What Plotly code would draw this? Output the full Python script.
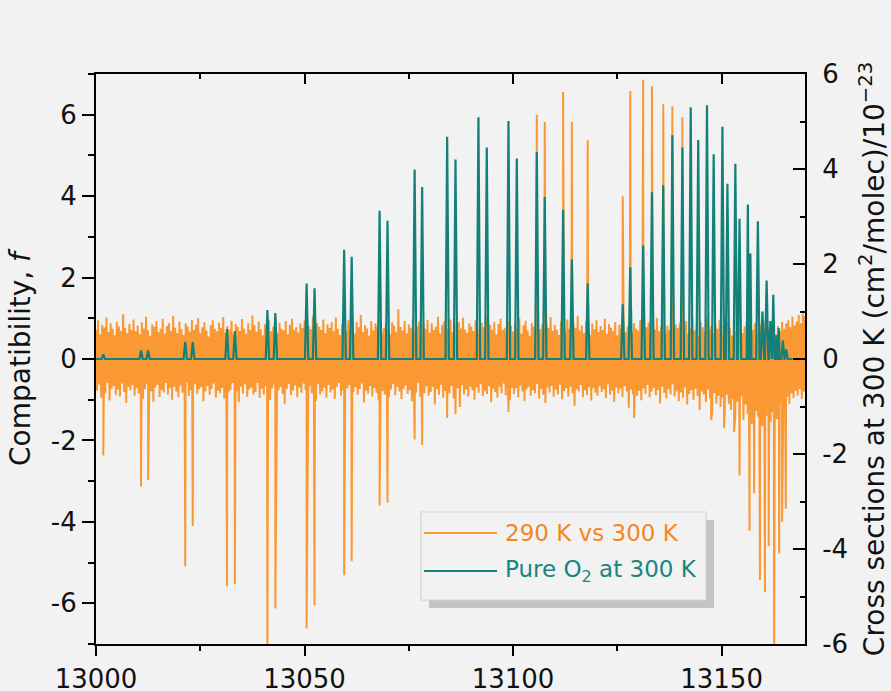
import plotly.graph_objects as go

# ---------------- data ----------------
x_start = 13000.0
noise_step = 0.5  # wavenumber grid of the noise envelope (cm-1)

# upper / lower envelope of the 290 K vs 300 K compatibility noise (every 0.5 cm-1, 13000..13170)
noise_hi = [
    .72, .95, .60, .84, .78, 1.02, .66, .88, .74, .58, .91, .80, .69, 1.10, .76, .63, .86, .71, .97, .68,
    .82, .61, .90, .75, 1.04, .70, .57, .85, .79, .93, .66, .74, .99, .62, .81, .88, .69, 1.06, .77, .64,
    .92, .73, .59, .87, .80, .67, .96, .71, .84, 1.00, .63, .78, .90, .70, .55, .83, .95, .74, .68, .89,
    .76, 1.03, .65, .81, .72, .94, .60, .86, .79, .69, .98, .75, .62, .88, .71, 1.07, .83, .66, .92, .73,
    .58, .85, .77, .96, .68, .80, 1.01, .64, .89, .74, .70, .93, .61, .84, .99, .72, .78, .65, .87, .76,
    .94, .67, .82, .73, 1.05, .60, .88, .79, .71, .97, .63, .85, .76, .90, .68, 1.02, .74, .59, .86, .81,
    .69, .95, .72, .84, .62, .91, .78, 1.08, .66, .83, .75, .57, .93, .70, .87, .80, .98, .64, .76, .89,
    .73, .61, .90, .82, .67, 1.22, .79, .70, .94, .63, .85, .77, 1.00, .68, .81, .92, .59, .86, .74, .96,
    .65, .88, .71, .79, 1.04, .62, .84, .93, .70, .76, .97, .67, .83, .58, .90, .75, 1.01, .72, .64, .87,
    .80, .69, .95, .74, .61, .89, .78, 1.06, .66, .84, .72, .91, .60, .86, .99, .71, .77, .63, .93, .82,
    .68, .87, .75, 1.00, .62, .83, .94, .70, .57, .88, .79, .66, .96, .73, .85, .61, .90, .77, 1.03, .69,
    .84, .72, .59, .92, .80, .67, .97, .74, .63, .89, .76, 1.05, .70, .82, .64, .93, .78, .60, .87, .73,
    .95, .66, .81, .71, .99, .62, .86, .77, .69, .91, .58, .84, .74, 1.02, .67, .80, .92, .65, .88, .75,
    .70, .96, .63, .83, .78, .90, .61, .86, .73, 1.01, .68, .79, .94, .64, .82, .71, .97, .60, .85, .76,
    .89, .67, .80, .93, .62, .75, .99, .70, .84, .57, .91, .78, .66, 1.04, .72, .81, .63, .87, .74, .95,
    .61, .83, .70, .92, .77, .58, .86, .68, .96, .73, .64, .80, .90, .56, .79, .71, .88, .62, .76, .84,
    .67, .93, .59, .78, .72, .85, .60, .81, .69, .91, .74, .87, .95, .78, 1.04, .82, .92, 1.08, .88, 1.12,
    1.05,
]
noise_lo = [
    -.78, -.62, -.95, -.70, -.84, -.58, -1.02, -.73, -.66, -.88, -.75, -.92, -.60, -.81, -1.08, -.69, -.77, -.64, -.90, -.72,
    -.85, -.67, -.98, -.74, -.61, -.89, -.79, -1.05, -.70, -.63, -.93, -.76, -.82, -.59, -.87, -.71, -1.00, -.68, -.80, -.94,
    -.65, -.83, -.72, -.57, -.91, -.77, -.99, -.62, -.86, -.74, -.69, -1.04, -.80, -.66, -.88, -.73, -.60, -.95, -.78, -.84,
    -.71, -.97, -.64, -.82, -.76, -.59, -.90, -.79, -1.06, -.68, -.85, -.62, -.93, -.75, -.70, -.87, -.81, -.58, -.96, -.73,
    -.88, -.66, -.80, -1.01, -.72, -.63, -.92, -.77, -.69, -.85, -1.10, -.74, -.61, -.89, -.78, -.65, -.94, -.70, -.83, -.60,
    -.76, -.91, -.67, -.84, -.73, -1.03, -.62, -.87, -.79, -.70, -.95, -.64, -.82, -.75, -.98, -.68, -.59, -.90, -.77, -.86,
    -.72, -.64, -.96, -.81, -.69, -.88, -.74, -.60, -1.07, -.78, -.85, -.66, -.92, -.71, -.83, -1.02, -.63, -.79, -.87, -.70,
    -.94, -.75, -.61, -.89, -.68, -.80, -.99, -.73, -.65, -.86, -.77, -1.04, -.70, -.82, -.58, -.93, -.76, -.84, -.67, -.90,
    -.81, -.69, -1.12, -.74, -.88, -.63, -.95, -.78, -.71, -.85, -.66, -.97, -.80, -.72, -1.18, -.64, -.87, -.75, -.92, -.68,
    -.77, -1.00, -.70, -.83, -.62, -.91, -.79, -.86, -.67, -1.06, -.73, -.81, -.95, -.69, -.84, -.60, -.89, -.76, -1.01, -.71,
    -.86, -.72, -.94, -.65, -.80, -1.03, -.74, -.68, -.90, -.77, -.84, -.61, -.97, -.73, -.88, -1.08, -.70, -.82, -.66, -.93,
    -.75, -.87, -.63, -.99, -.79, -.71, -.92, -.68, -.85, -1.15, -.74, -.80, -.64, -.94, -.77, -.89, -.69, -1.02, -.72, -.83,
    -.90, -.67, -.81, -.74, -.96, -.62, -.88, -.78, -1.05, -.70, -.84, -.73, -.93, -.66, -.80, -1.20, -.75, -.87, -.69, -.91,
    -.78, -1.01, -.72, -.85, -.64, -.94, -.80, -.71, -.89, -.76, -1.09, -.68, -.83, -.97, -.74, -.87, -.62, -.92, -.79, -1.04,
    -.82, -.95, -.70, -1.12, -.86, -.77, -1.00, -.73, -.91, -1.25, -.80, -.88, -1.06, -.75, -.97, -1.30, -.84, -1.10, -.90, -1.18,
    -.95, -1.30, -.88, -1.10, -1.25, -.98, -1.45, -1.05, -1.20, -.92, -1.50, -1.12, -1.35, -1.00, -1.60, -1.15, -1.28, -1.42, -1.05, -1.65,
    -1.22, -1.40, -1.10, -1.55, -1.30, -1.15, -1.48, -1.35, -1.08, -1.25, -1.00, -.92, -1.10, -.84, -.96, -.78, -.90, -.74, -.98, -.80,
    -.85,
]

# strong excursions of the compatibility at the O2 line positions
spike_x = [13001.75, 13010.8, 13012.5, 13021.4, 13023.2, 13031.4, 13033.3, 13041.1, 13043.0,
           13050.5, 13052.4, 13059.5, 13061.3, 13068.0, 13069.9, 13076.4, 13078.2, 13084.2,
           13086.2, 13098.9, 13105.7, 13107.6, 13112.0, 13114.1, 13117.9, 13126.3, 13128.1,
           13129.0, 13131.2, 13133.3, 13136.0, 13138.2, 13140.6, 13147.5, 13150.6, 13153.0,
           13154.3, 13156.7, 13157.8, 13159.2, 13160.4, 13161.3, 13162.6, 13163.8, 13164.5,
           13165.4]
spike_y = [-2.37, -3.13, -2.98, -5.09, -4.10, -5.58, -5.53, -7.5, -6.13,
           -6.62, -6.05, -5.31, -4.97, -3.60, -3.53, -1.98, -2.11, -1.45,
           -1.35, -1.30, 6.00, 5.82, 6.56, 5.82, 5.37, 4.00, 6.58,
           -1.45, 6.86, 6.70, 6.26, 6.21, 5.94, -1.50, -1.70, -1.80,
           -2.86, -4.22, -3.30, -5.43, -5.72, -4.60, -7.5, -4.78, -4.00,
           -3.68]

# pure O2 cross sections at 300 K (line centres, peak values in 1e-23 cm2/molec)
teal_x = [13001.75, 13010.8, 13012.5, 13021.4, 13023.2, 13031.4, 13033.3, 13041.1, 13043.0,
          13050.5, 13052.4, 13059.5, 13061.3, 13068.0, 13069.9, 13076.4, 13078.2, 13084.2,
          13086.2, 13091.7, 13093.7, 13098.9, 13100.9, 13105.7, 13107.6, 13112.0, 13114.1,
          13117.9, 13126.3, 13128.1, 13131.2, 13133.3, 13136.0, 13138.2, 13140.6, 13142.6,
          13144.4, 13146.5, 13148.1, 13150.2, 13151.4, 13153.3, 13154.3, 13156.3, 13156.9,
          13158.7, 13159.8, 13160.8, 13161.7, 13162.4, 13163.2, 13163.7, 13164.7, 13165.5]
teal_h = [0.10, 0.18, 0.18, 0.36, 0.36, 0.63, 0.59, 1.03, 0.97,
          1.59, 1.49, 2.30, 2.15, 3.12, 2.91, 3.99, 3.62, 4.68,
          4.20, 5.09, 4.45, 5.01, 4.22, 4.36, 3.41, 3.14, 2.10,
          1.59, 1.15, 1.93, 2.39, 3.51, 3.66, 4.71, 4.45, 5.30,
          4.61, 5.34, 4.31, 4.89, 3.69, 4.11, 2.95, 3.25, 2.22,
          2.90, 1.00, 1.65, 0.80, 1.35, 0.50, 0.65, 0.39, 0.20]
teal_end = 13167.0

x_tickvals = [13000, 13050, 13100, 13150]
x_ticktext = ["13000", "13050", "13100", "13150"]
x_minorvals = [13025, 13075, 13125]
y_tickvals = [-6, -4, -2, 0, 2, 4, 6]
y_ticktext = ["-6", "-4", "-2", "0", "2", "4", "6"]
yl_minorvals = [-7, -5, -3, -1, 1, 3, 5, 7]
yr_minorvals = [-5, -3, -1, 1, 3, 5]

# ---------------- build series ----------------
pts = []
for i, (h, l) in enumerate(zip(noise_hi, noise_lo)):
    xx = x_start + i * noise_step
    pts.append((xx, h, 0))
    pts.append((xx + noise_step / 2, l, 0))
for sx, sy in zip(spike_x, spike_y):
    pts.append((sx, sy, 1))
pts.sort(key=lambda p: (p[0], p[2]))
orange_x = [p[0] for p in pts]
orange_y = [p[1] for p in pts]

tx, ty = [x_start], [0.0]
n = len(teal_x)
for j, (c, h) in enumerate(zip(teal_x, teal_h)):
    gaps = []
    if j > 0:
        gaps.append(c - teal_x[j - 1])
    if j < n - 1:
        gaps.append(teal_x[j + 1] - c)
    hw = min(0.4, 0.45 * min(gaps))
    tx += [c - hw, c, c + hw]
    ty += [0.0, h, 0.0]
tx.append(teal_end)
ty.append(0.0)

# ---------------- style ----------------
ORANGE = "#FA9933"
ORANGE_TXT = "#F4861F"
TEAL = "#13807A"
TEAL_TXT = "#168680"
BG = "#F2F2F2"
INK = "#111111"
FONT = "DejaVu Sans"

W, H = 891, 691
ML, MR, MT, MB = 96, 86, 74, 47
PW, PH = W - ML - MR, H - MT - MB


def px_x(px):
    return (px - ML) / PW


def px_y(py):
    return (H - MB - py) / PH


fig = go.Figure()
fig.add_trace(go.Scatter(
    x=orange_x, y=orange_y, mode="lines", name="290 K vs 300 K",
    line=dict(color=ORANGE, width=2.0), xaxis="x", yaxis="y", showlegend=False,
))
fig.add_trace(go.Scatter(
    x=tx, y=ty, mode="lines", name="Pure O<sub>2</sub> at 300 K",
    line=dict(color=TEAL, width=2.2), xaxis="x2", yaxis="y2", showlegend=False,
))

axis_common = dict(showline=True, linewidth=2, linecolor="black", showgrid=False,
                   zeroline=False, tickwidth=2, tickcolor="black", automargin=False,
                   tickfont=dict(family=FONT, size=26, color=INK))

fig.update_layout(
    template="none",
    width=W, height=H, autosize=False,
    margin=dict(l=ML, r=MR, t=MT, b=MB, pad=0),
    paper_bgcolor=BG, plot_bgcolor=BG,
    font=dict(family=FONT, color=INK),
    showlegend=False,
    xaxis=dict(range=[13000, 13170], tickmode="array", tickvals=x_tickvals, ticktext=x_ticktext,
               ticks="outside", ticklen=10, side="bottom", anchor="y", ticklabelstandoff=1,
               minor=dict(tickmode="array", tickvals=x_minorvals, ticks="outside", ticklen=5,
                          tickwidth=2, tickcolor="black", showgrid=False),
               **axis_common),
    xaxis2=dict(range=[13000, 13170], overlaying="x", matches="x", side="top", anchor="y2",
                tickmode="array", tickvals=x_tickvals, ticks="inside", ticklen=10,
                showticklabels=False,
                minor=dict(tickmode="array", tickvals=x_minorvals, ticks="inside", ticklen=5,
                           tickwidth=2, tickcolor="black", showgrid=False),
                **axis_common),
    yaxis=dict(range=[-7, 7], tickmode="array", tickvals=y_tickvals, ticktext=y_ticktext,
               ticks="outside", ticklen=12, anchor="x", side="left",
               minor=dict(tickmode="array", tickvals=yl_minorvals, ticks="outside", ticklen=6,
                          tickwidth=2, tickcolor="black", showgrid=False),
               title=dict(text="Compatibility, <i>f</i>", font=dict(family=FONT, size=28, color=INK),
                          standoff=12),
               **axis_common),
    yaxis2=dict(range=[-6, 6], overlaying="y", side="right", anchor="x2",
                tickmode="array", tickvals=y_tickvals, ticktext=y_ticktext,
                ticks="inside", ticklen=12, ticklabelstandoff=10,
                minor=dict(tickmode="array", tickvals=yr_minorvals, ticks="inside", ticklen=5,
                           tickwidth=2, tickcolor="black", showgrid=False),
                title=dict(text="Cross sections at 300 K (cm<sup>2</sup>/molec)/10<sup>\u221223</sup>",
                           font=dict(family=FONT, size=28, color=INK), standoff=18),
                **axis_common),
)

# ---------------- legend box (drawn like the original, with drop shadow) ----------------
box_l, box_t, box_r, box_b = 421, 512, 706, 600
shadow = 8
fig.add_shape(type="rect", xref="paper", yref="paper",
              x0=px_x(box_l + shadow), x1=px_x(box_r + shadow),
              y0=px_y(box_b + shadow), y1=px_y(box_t + shadow),
              fillcolor="#C4C4C4", line=dict(width=0), layer="above")
fig.add_shape(type="rect", xref="paper", yref="paper",
              x0=px_x(box_l), x1=px_x(box_r), y0=px_y(box_b), y1=px_y(box_t),
              fillcolor=BG, line=dict(color="#D2D2D2", width=1.2), layer="above")
rows = [(533, ORANGE, ORANGE_TXT, "290 K vs 300 K"),
        (571, TEAL, TEAL_TXT, "Pure O<sub>2</sub> at 300 K")]
for py, lc, tc, label in rows:
    fig.add_shape(type="line", xref="paper", yref="paper",
                  x0=px_x(424), x1=px_x(497), y0=px_y(py), y1=px_y(py),
                  line=dict(color=lc, width=2), layer="above")
    fig.add_annotation(xref="paper", yref="paper", x=px_x(503), y=px_y(py),
                       xanchor="left", yanchor="middle", showarrow=False, text=label,
                       font=dict(family=FONT, size=23, color=tc))

fig.write_html("out.html")
